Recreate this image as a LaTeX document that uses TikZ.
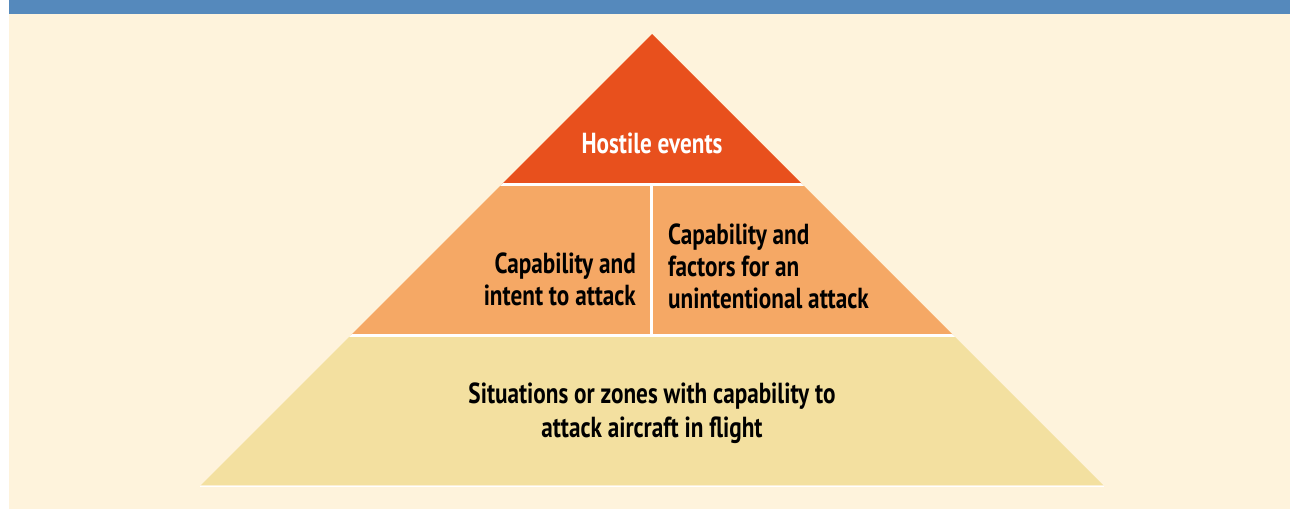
\documentclass[tikz,border=0pt]{standalone}
\usepackage{fontspec}
\setmainfont{PT Sans}[FakeStretch=0.80]
\begin{document}
\begin{tikzpicture}[x=1pt,y=-1pt,
  lbl/.style={font=\fontsize{29}{32}\selectfont\bfseries, inner sep=0pt},
  gap/.style={draw=white, line width=3pt}]
\definecolor{band}{HTML}{5589BC}
\definecolor{cream}{HTML}{FEF3DC}
\definecolor{tier1}{HTML}{E8501D}
\definecolor{tier2}{HTML}{F5A865}
\definecolor{tier3}{HTML}{F3E0A0}
\useasboundingbox (0,0) rectangle (1290,509);
\fill[white] (0,0) rectangle (1290,509);
\fill[band] (9,0) rectangle (1290,14);
\fill[cream] (9,14) rectangle (1290,509);
% three tiers of the pyramid
\fill[tier1] (652,34) -- (802,184) -- (502,184) -- cycle;
\fill[tier2] (502,184) -- (802,184) -- (953,335) -- (351,335) -- cycle;
\fill[tier3] (351,335) -- (953,335) -- (1103,485) -- (201,485) -- cycle;
% white separators
\begin{scope}
  \clip (652,34) -- (1104,486) -- (200,486) -- cycle;
  \draw[gap] (150,184.5) -- (1150,184.5);
  \draw[gap] (150,335.5) -- (1150,335.5);
  \draw[gap] (651.5,184) -- (651.5,335);
\end{scope}
\draw[white, line width=1pt] (200,486) -- (1104,486);
% labels
\node[lbl, text=white] (hostile) at (652,143) {Hostile events};
\node[lbl, align=right, anchor=east] (intent) at (636,279) {Capability and\\intent to attack};
\node[lbl, align=left, anchor=west] (unint) at (668,266) {Capability and\\factors for an\\unintentional attack};
\node[lbl, align=center, font=\fontsize{29}{34}\selectfont\bfseries] (zones) at (652,413) {Situations or zones with capability to\\attack aircraft in flight};
\end{tikzpicture}
\end{document}
